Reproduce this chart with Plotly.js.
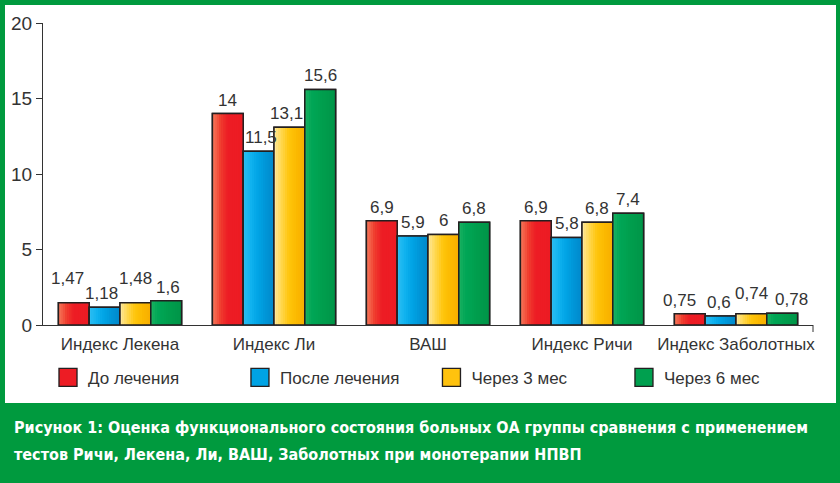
<!DOCTYPE html>
<html><head><meta charset="utf-8">
<script src="https://cdn.plot.ly/plotly-3.0.1.min.js"></script>
<style>
html,body{margin:0;padding:0;background:#fff;}
#chart{width:840px;height:483px;}
text[style*="DejaVu Sans Condensed"]{font-stretch:condensed;}
</style></head>
<body><div id="chart"></div>
<script>
// ---- data ----
const categories = ['Индекс Лекена', 'Индекс Ли', 'ВАШ', 'Индекс Ричи', 'Индекс Заболотных'];
const seriesNames = ['До лечения', 'После лечения', 'Через 3 мес', 'Через 6 мес'];
const beforeTreatment = [1.47, 14, 6.9, 6.9, 0.75];
const afterTreatment  = [1.18, 11.5, 5.9, 5.8, 0.6];
const after3Months    = [1.48, 13.1, 6, 6.8, 0.74];
const after6Months    = [1.6, 15.6, 6.8, 7.4, 0.78];
const yTicks = [0, 5, 10, 15, 20];
const captionLines = [
  'Рисунок 1: Оценка функционального состояния больных ОА группы сравнения с применением',
  'тестов Ричи, Лекена, Ли, ВАШ, Заболотных при монотерапии НПВП'
];

// ---- styles ----
const seriesValues = [beforeTreatment, afterTreatment, after3Months, after6Months];
const baseColors = ['#ed1c24', '#00a3e4', '#ffc20e', '#00a04f'];
const gradStops = [
  ['#f67a5c', '#f04030', '#ed1c24', '#ed1c24', '#ec1b23'],
  ['#30bff2', '#10b2ef', '#00a3e4', '#0094d6', '#0088cc'],
  ['#feeaa6', '#ffd64a', '#ffc50a', '#fbb800', '#f7ae00'],
  ['#1ab060', '#00a656', '#00a04f', '#009a4b', '#009448']
];
const nudgeY = [[11, 0, 11, 0], [0,0,0,0], [0,0,0,0], [0,0,0,0], [0, 0, 7, 0]];
const nudgeX = [[-6, -3, 0, 2], [0, 2, -3, 0], [0,0,0,0], [0,0,0,0], [-10, -2, 0, 9]];
const legendX = [0.0065, 0.2558, 0.5045, 0.7545];

const chartFont = 'Liberation Sans, Arial';
const textColor = '#333333';
const frameGreen = '#009a3e';

function hexToRgb(h){return [1,3,5].map(i=>parseInt(h.substr(i,2),16));}
function mix(a,b,t){const A=hexToRgb(a),B=hexToRgb(b);return 'rgb('+A.map((v,i)=>Math.round(v+(B[i]-v)*t)).join(',')+')';}
function gradColor(stops,t){const n=stops.length-1;const s=Math.min(n-1,Math.floor(t*n));return mix(stops[s],stops[s+1],t*n-s);}

const barW = 0.2;
const nStrips = 14;
const traces = [];
seriesValues.forEach((vals, k) => {
  const off = -0.4 + barW * k;
  traces.push({type:'bar', x: categories, y: vals, name: seriesNames[k],
    legend: k === 0 ? 'legend' : 'legend' + (k + 1),
    width: barW, offset: off,
    marker:{color: baseColors[k], line:{color:'#231f20', width:1.5}}, hoverinfo:'skip'});
  for (let j = 0; j < nStrips; j++) {
    traces.push({type:'bar', x: categories, y: vals, showlegend:false,
      width: barW / nStrips + 0.003, offset: off + barW * j / nStrips,
      marker:{color: gradColor(gradStops[k], (j + 0.5) / nStrips), line:{width:0}}, hoverinfo:'skip'});
  }
  traces.push({type:'bar', x: categories, y: vals, showlegend:false,
    width: barW, offset: off,
    marker:{color:'rgba(0,0,0,0)', line:{color:'#231f20', width:1.5}}, hoverinfo:'skip'});
});

const annotations = [];
seriesValues.forEach((vals, k) => {
  vals.forEach((v, i) => {
    annotations.push({x: i - 0.3 + barW * k, y: v, xref:'x', yref:'y',
      text: String(v).replace('.', ','), showarrow:false, yanchor:'bottom',
      yshift: 2 + nudgeY[i][k], xshift: nudgeX[i][k],
      font:{family: chartFont, size: 17, color: textColor}});
  });
});
captionLines.forEach((line, li) => {
  annotations.push({xref:'paper', yref:'paper', x: -0.0403, y: li === 0 ? -0.341 : -0.430,
    xanchor:'left', yanchor:'middle', showarrow:false, text: line,
    font:{family:'DejaVu Sans Condensed, DejaVu Sans', size: 16, color:'#ffffff', weight: 'bold'}});
});

const layout = {
  width: 840, height: 483,
  margin: {l: 43, r: 27, t: 23, b: 158, autoexpand: false},
  paper_bgcolor: frameGreen, plot_bgcolor: 'rgba(0,0,0,0)',
  barmode: 'overlay',
  separators: ',.',
  showlegend: true,
  xaxis: {type:'category', range:[-0.5, 4.5], showgrid:false, zeroline:false,
    showline:true, linecolor:'#333', linewidth:1, ticks:'', tickangle: 0,
    tickfont:{family: chartFont, size: 17, color: textColor}, ticklabelstandoff: 4, fixedrange:true},
  yaxis: {range:[0, 20], tickvals: yTicks, showgrid:false, zeroline:false,
    showline:true, linecolor:'#333', linewidth:1, ticks:'outside', ticklen:6, tickcolor:'#333',
    tickfont:{family: chartFont, size: 19, color: textColor}, fixedrange:true},
  shapes: [
    {type:'rect', xref:'paper', yref:'paper', x0:-0.04935, x1:1.02987, y0:-0.2583, y1:1.0596,
      fillcolor:'#ffffff', line:{width:0}, layer:'below'},
    {type:'line', xref:'paper', yref:'paper', x0:1, x1:1, ysizemode:'pixel', yanchor:0, y0:0, y1:-7,
      line:{color:'#333', width:1}}
  ],
  annotations: annotations
};
legendX.forEach((lx, k) => {
  layout[k === 0 ? 'legend' : 'legend' + (k + 1)] = {orientation:'h', x: lx, xanchor:'left',
    y: -0.175, yanchor:'middle', font:{family: chartFont, size: 17, color: textColor},
    bgcolor:'rgba(0,0,0,0)'};
});

Plotly.newPlot('chart', traces, layout, {staticPlot:true}).then(gd => {
  // enlarge the legend swatches to match the reference
  gd.querySelectorAll('.legendpoints path').forEach(p => {
    const t = p.getAttribute('transform') || '';
    p.setAttribute('transform', t + ' scale(1.5)');
    p.style.strokeWidth = '0.9px';
  });
});
</script></body></html>
